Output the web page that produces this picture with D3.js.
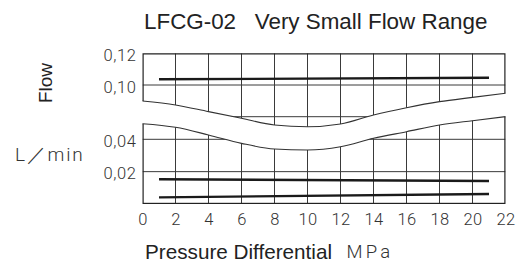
<!DOCTYPE html>
<html><head><meta charset="utf-8">
<script src="https://cdn.jsdelivr.net/npm/d3@7"></script>
<style>
html,body{margin:0;padding:0;background:#fff;}
svg{display:block;}
.tk{font-family:Roboto,"Liberation Sans",sans-serif;font-weight:300;font-size:16.5px;fill:#333;letter-spacing:0px;}
.lbl{font-family:"Liberation Sans",Arial,sans-serif;fill:#222;}
</style></head>
<body>
<script>
// ---- data ----
const title = "LFCG-02\u00a0\u00a0\u00a0Very Small Flow Range";
const xTicks = [0,2,4,6,8,10,12,14,16,18,20,22];
const yUpperTicks = [0.10, 0.12];
const yUpperGrid = [0.08, 0.10];
const yLowerTicks = [0.02, 0.04];
const yLowerGrid = [0.02, 0.04];
const seriesX = [1, 21];
const seriesHigh = [0.1036, 0.1046];   // upper section
const seriesMid = [0.0153, 0.0142];    // lower section
const seriesLow = [0.0041, 0.0062];    // lower section
const breakX = [0,2,4,6,8,10,12,14,16,18,20,22];
const breakUpper = [0.0899,0.0874,0.0832,0.0790,0.0748,0.0737,0.0754,0.0811,0.0857,0.0895,0.0922,0.0948];
const breakLower = [0.0496,0.0474,0.0427,0.0375,0.0340,0.0334,0.0354,0.0406,0.0447,0.0488,0.0515,0.0540];

const W = 518, H = 263;
const svg = d3.select("body").append("svg").attr("width", W).attr("height", H);

const x = d3.scaleLinear().domain([0, 22]).range([142.5, 505.5]);
const yU = d3.scaleLinear().domain([0.10, 0.12]).range([85, 53.3]);
const yL = d3.scaleLinear().domain([0, 0.04]).range([204, 139.3]);

const brk = breakX.map((v, i) => ({x: v, u: breakUpper[i], l: breakLower[i]}));
const curve = d3.curveMonotoneX;

// clip paths
const defs = svg.append("defs");
defs.append("clipPath").attr("id", "clipU").append("path")
  .attr("d", d3.area().curve(curve).x(d => x(d.x)).y0(d => yU(d.u)).y1(() => yU(0.12))(brk));
defs.append("clipPath").attr("id", "clipL").append("path")
  .attr("d", d3.area().curve(curve).x(d => x(d.x)).y0(d => yL(d.l)).y1(() => yL(0))(brk));

const gridColor = "#3a3a3a";

// upper section
const gU = svg.append("g").attr("clip-path", "url(#clipU)");
gU.selectAll("line.v").data(xTicks.slice(1, -1)).join("line")
  .attr("x1", d => x(d)).attr("x2", d => x(d)).attr("y1", yU(0.12)).attr("y2", yL(0))
  .attr("stroke", gridColor).attr("stroke-width", 1);
gU.selectAll("line.h").data(yUpperGrid).join("line")
  .attr("x1", x(0)).attr("x2", x(22)).attr("y1", d => yU(d)).attr("y2", d => yU(d))
  .attr("stroke", gridColor).attr("stroke-width", 1);
gU.append("rect").attr("x", x(0)).attr("y", yU(0.12)).attr("width", x(22) - x(0)).attr("height", 200)
  .attr("fill", "none").attr("stroke", "#222").attr("stroke-width", 2.4);

// lower section
const gL = svg.append("g").attr("clip-path", "url(#clipL)");
gL.selectAll("line.v").data(xTicks.slice(1, -1)).join("line")
  .attr("x1", d => x(d)).attr("x2", d => x(d)).attr("y1", yU(0.12)).attr("y2", yL(0))
  .attr("stroke", gridColor).attr("stroke-width", 1);
gL.selectAll("line.h").data(yLowerGrid).join("line")
  .attr("x1", x(0)).attr("x2", x(22)).attr("y1", d => yL(d)).attr("y2", d => yL(d))
  .attr("stroke", gridColor).attr("stroke-width", 1);
gL.append("rect").attr("x", x(0)).attr("y", 0).attr("width", x(22) - x(0)).attr("height", yL(0))
  .attr("fill", "none").attr("stroke", "#222").attr("stroke-width", 2.4);

// break edges
svg.append("path").datum(brk)
  .attr("d", d3.line().curve(curve).x(d => x(d.x)).y(d => yU(d.u)))
  .attr("fill", "none").attr("stroke", "#333").attr("stroke-width", 1.1);
svg.append("path").datum(brk)
  .attr("d", d3.line().curve(curve).x(d => x(d.x)).y(d => yL(d.l)))
  .attr("fill", "none").attr("stroke", "#333").attr("stroke-width", 1.1);

// data lines
function drawSeries(vals, ys) {
  svg.append("path").datum(seriesX.map((v, i) => [v, vals[i]]))
    .attr("d", d3.line().x(d => x(d[0])).y(d => ys(d[1])))
    .attr("fill", "none").attr("stroke", "#1a1a1a").attr("stroke-width", 2.4);
}
drawSeries(seriesHigh, yU);
drawSeries(seriesMid, yL);
drawSeries(seriesLow, yL);

// axes (labels only)
const fmt = d => d3.format(".2f")(d).replace(".", ",");
const axU = svg.append("g").attr("transform", `translate(${x(0) - 6},0)`)
  .call(d3.axisLeft(yU).tickValues(yUpperTicks).tickFormat(fmt).tickSize(0).tickPadding(0));
const axL = svg.append("g").attr("transform", `translate(${x(0) - 6},0)`)
  .call(d3.axisLeft(yL).tickValues(yLowerTicks).tickFormat(fmt).tickSize(0).tickPadding(0));
const axX = svg.append("g").attr("transform", `translate(0,${yL(0) + 8})`)
  .call(d3.axisBottom(x).tickValues(xTicks).tickFormat(d3.format("d")).tickSize(0).tickPadding(0));
[axU, axL, axX].forEach(a => {
  a.select(".domain").remove();
  a.selectAll("text").attr("class", "tk").attr("fill", null).attr("font-family", null).attr("font-size", null);
  a.attr("font-family", null).attr("font-size", null);
});
axU.selectAll("text").attr("dy", "0.45em").style("letter-spacing", "0.6px");
axL.selectAll("text").attr("dy", "0.42em").style("letter-spacing", "0.6px");
axX.selectAll("text").attr("dy", "0.78em").style("letter-spacing", "0.4px");

// titles
svg.append("text").attr("class", "lbl").attr("x", 144).attr("y", 29.3)
  .attr("font-size", 22.4).text(title);
svg.append("text").attr("class", "lbl").attr("x", 145).attr("y", 258.5)
  .attr("font-size", 20.7).text("Pressure Differential");
svg.append("text").attr("class", "tk").attr("x", 346.5).attr("y", 257.5)
  .style("font-size", "18.5px").style("letter-spacing", "3.2px").text("MPa");
svg.append("text").attr("class", "lbl")
  .attr("transform", "translate(51.5,83) rotate(-90)").attr("text-anchor", "middle")
  .attr("font-size", 19).text("Flow");
svg.append("text").attr("class", "tk").attr("x", 15).attr("y", 161)
  .style("font-size", "19px").style("letter-spacing", "1.8px").text("L\uFF0Fmin");
</script>
</body></html>
